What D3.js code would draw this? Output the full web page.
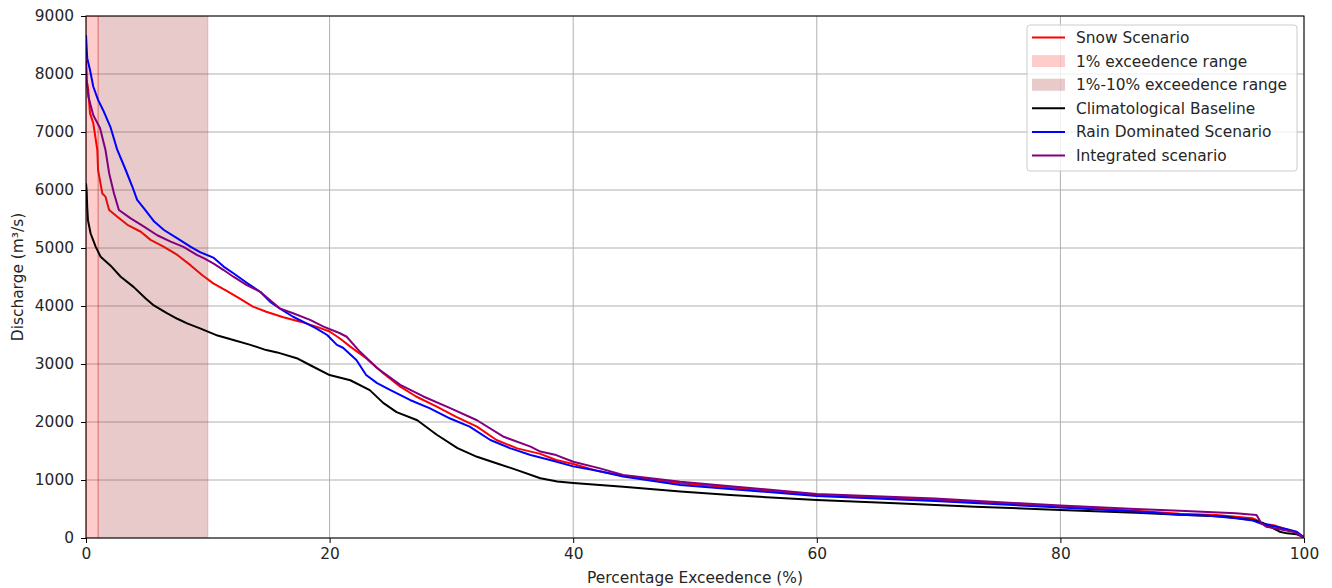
<!DOCTYPE html>
<html>
<head>
<meta charset="utf-8">
<script src="https://cdn.jsdelivr.net/npm/d3@7"></script>
<style>
  html, body { margin: 0; padding: 0; background: #fff; }
  svg { display: block; font-family: "DejaVu Sans", sans-serif; }
</style>
</head>
<body>
<svg id="chart" width="1332" height="588"></svg>
<script>
// ---------- DATA (percentage exceedance %, discharge m³/s) ----------
const xTicks = [0, 20, 40, 60, 80, 100];
const yTicks = [0, 1000, 2000, 3000, 4000, 5000, 6000, 7000, 8000, 9000];

const snowScenario = [
  [0,8200],[0.05,7900],[0.19,7720],[0.33,7320],[0.6,7150],[0.93,6690],[0.99,6345],[1.34,5940],
  [1.6,5885],[1.9,5655],[2.57,5540],[3.4,5400],[4.5,5280],[5.3,5140],[6.4,5020],[7.5,4880],
  [8.6,4700],[9.55,4530],[10.45,4390],[11.55,4260],[12.6,4130],[13.7,3990],[14.8,3900],[16.2,3805],
  [17.6,3730],[18.9,3645],[20,3560],[20.85,3440],[21.7,3300],[23,3100],[24.4,2840],[25.8,2610],
  [27.1,2440],[28.8,2265],[30.4,2090],[32.1,1920],[33.7,1690],[35.4,1545],[37.3,1450],[38.6,1345],
  [40,1275],[42.2,1145],[44.1,1075],[48.8,945],[60,745],[69.7,660],[80,545],[86.2,470],[89.8,420],
  [92.8,397],[95.8,340],[96.2,300],[96.5,250],[97.5,220],[98.4,160],[99.5,90],[100,15]
];

const baseline = [
  [0,6115],[0.05,6000],[0.1,5700],[0.16,5480],[0.38,5250],[0.8,5020],[1.2,4850],[2.0,4700],
  [2.85,4505],[3.9,4330],[4.9,4130],[5.5,4020],[6.6,3880],[7.5,3780],[8.3,3700],[9.36,3615],
  [10.8,3490],[12.1,3415],[13.5,3330],[14.8,3240],[15.7,3200],[17.3,3100],[18.5,2970],[20,2810],
  [21.7,2720],[23.3,2550],[24.4,2330],[25.5,2170],[27.2,2030],[28.8,1780],[30.5,1550],[32.1,1400],
  [33.7,1290],[35.4,1170],[37.3,1030],[38.7,975],[40,950],[44.1,885],[48.8,800],[52.9,740],
  [60,655],[66.5,598],[73,540],[80,483],[86.2,437],[89.8,400],[93.4,370],[95.8,310],[96.7,253],
  [98,109],[98.6,80],[99.4,64],[100,12]
];

const rainScenario = [
  [0,8670],[0.1,8270],[0.33,8070],[0.6,7780],[1.0,7550],[1.4,7380],[2.0,7090],[2.57,6690],
  [3.26,6345],[3.8,6060],[4.2,5830],[4.76,5685],[5.6,5455],[6.4,5310],[7.5,5165],[8.6,5020],
  [9.36,4930],[10.45,4835],[11.3,4680],[12.1,4565],[13.2,4400],[14.3,4245],[15.1,4075],[15.9,3960],
  [17,3815],[18.1,3700],[18.9,3615],[19.8,3500],[20.6,3330],[21.1,3280],[22.2,3070],[23,2810],
  [23.9,2670],[25,2550],[26.6,2380],[28.2,2240],[29.9,2060],[31.5,1920],[33.2,1690],[34.8,1550],
  [36.5,1430],[38.1,1345],[40,1235],[42.2,1150],[44.1,1060],[48.8,915],[60,725],[69.7,640],
  [80,525],[86.2,455],[89.8,400],[92,390],[94.4,340],[95.8,300],[96.4,255],[97.7,195],[98.6,150],
  [99.4,109],[99.8,40],[100,22]
];

const integratedScenario = [
  [0,8240],[0.05,7900],[0.19,7610],[0.6,7290],[1.15,7070],[1.6,6690],[1.9,6290],[2.3,5940],
  [2.7,5655],[3.67,5510],[4.76,5370],[5.85,5220],[6.95,5110],[8.0,5020],[9.1,4880],[9.7,4820],
  [10.45,4735],[11.3,4620],[12.1,4505],[13.2,4360],[14.3,4245],[15.9,3960],[17,3875],[18.4,3760],
  [19.5,3645],[20.85,3530],[21.4,3470],[22.5,3210],[23.9,2930],[25.8,2640],[27.7,2440],[29.9,2240],
  [32.1,2030],[34.3,1745],[36.5,1575],[37.3,1490],[38.6,1430],[40,1315],[42.2,1200],[44.1,1085],
  [48.8,970],[60,760],[69.7,680],[80,560],[86.2,500],[89.8,470],[94.4,425],[96.1,397],[96.5,253],
  [96.9,195],[98,150],[99.1,109],[99.6,52],[100,5]
];

const ranges = [
  { from: 0, to: 1, label: "1% exceedence range", fill: "#ff0000", fillOpacity: 0.2, stroke: "#ff0000", strokeOpacity: 0.25 },
  { from: 1, to: 10, label: "1%-10% exceedence range", fill: "#a52a2a", fillOpacity: 0.25, stroke: "#a52a2a", strokeOpacity: 0.15 }
];

// ---------- LAYOUT ----------
const FS = 15.4;
const svg = d3.select("#chart");
const margin = { left: 86, right: 28, top: 16, bottom: 50 };
const W = 1332, H = 588;
const x = d3.scaleLinear().domain([0, 100]).range([margin.left, W - margin.right]);
const y = d3.scaleLinear().domain([0, 9000]).range([H - margin.bottom, margin.top]);

// grid
const grid = svg.append("g");
grid.selectAll("line.vx").data(xTicks).enter().append("line")
  .attr("x1", d => x(d)).attr("x2", d => x(d))
  .attr("y1", y(0)).attr("y2", y(9000))
  .attr("stroke", "#b0b0b0").attr("stroke-width", 1);
grid.selectAll("line.hy").data(yTicks).enter().append("line")
  .attr("x1", x(0)).attr("x2", x(100))
  .attr("y1", d => y(d)).attr("y2", d => y(d))
  .attr("stroke", "#b0b0b0").attr("stroke-width", 1);

const line = d3.line().x(d => x(d[0])).y(d => y(d[1]));
svg.append("clipPath").attr("id", "plotclip").append("rect")
  .attr("x", x(0)).attr("y", y(9000)).attr("width", x(100) - x(0)).attr("height", y(0) - y(9000));

const plot = svg.append("g").attr("clip-path", "url(#plotclip)");

function drawLine(data, color) {
  plot.append("path").datum(data)
    .attr("d", line)
    .attr("fill", "none")
    .attr("stroke", color)
    .attr("stroke-width", 2)
    .attr("stroke-linejoin", "round")
    .attr("stroke-linecap", "butt");
}

// draw order as in source: snow, spans, baseline, rain, integrated
drawLine(snowScenario, "#ff0000");

plot.selectAll("rect.span").data(ranges).enter().append("rect")
  .attr("x", d => x(d.from)).attr("width", d => x(d.to) - x(d.from))
  .attr("y", y(9000)).attr("height", y(0) - y(9000))
  .attr("fill", d => d.fill).attr("fill-opacity", d => d.fillOpacity)
  .attr("stroke", d => d.stroke).attr("stroke-opacity", d => d.strokeOpacity)
  .attr("stroke-width", 1.5);

drawLine(baseline, "#000000");
drawLine(rainScenario, "#0000ff");
drawLine(integratedScenario, "#800080");

// axes
const xAxis = d3.axisBottom(x).tickValues(xTicks).tickSize(5).tickPadding(5).tickFormat(d3.format("d"));
const yAxis = d3.axisLeft(y).tickValues(yTicks).tickSize(5).tickPadding(7).tickFormat(d3.format("d"));

const gx = svg.append("g").attr("transform", `translate(0,${y(0)})`).call(xAxis);
const gy = svg.append("g").attr("transform", `translate(${x(0)},0)`).call(yAxis);
[gx, gy].forEach(g => {
  g.select(".domain").remove();
  g.selectAll("text").attr("font-size", FS).attr("font-family", "DejaVu Sans").attr("fill", "#262626");
  g.selectAll("line").attr("stroke", "#000");
});

// frame
svg.append("rect")
  .attr("x", x(0)).attr("y", y(9000))
  .attr("width", x(100) - x(0)).attr("height", y(0) - y(9000))
  .attr("fill", "none").attr("stroke", "#000").attr("stroke-width", 1);

// axis labels
svg.append("text")
  .attr("x", (x(0) + x(100)) / 2).attr("y", 583)
  .attr("text-anchor", "middle").attr("font-size", FS).attr("fill", "#262626")
  .text("Percentage Exceedence (%)");
svg.append("text")
  .attr("transform", `translate(23,${(y(0) + y(9000)) / 2}) rotate(-90)`)
  .attr("text-anchor", "middle").attr("font-size", FS).attr("fill", "#262626")
  .text("Discharge (m³/s)");

// legend
const legendItems = [
  { label: "Snow Scenario", type: "line", color: "#ff0000" },
  { label: ranges[0].label, type: "patch", fill: ranges[0].fill, op: ranges[0].fillOpacity },
  { label: ranges[1].label, type: "patch", fill: ranges[1].fill, op: ranges[1].fillOpacity },
  { label: "Climatological Baseline", type: "line", color: "#000000" },
  { label: "Rain Dominated Scenario", type: "line", color: "#0000ff" },
  { label: "Integrated scenario", type: "line", color: "#800080" }
];
const lg = svg.append("g").attr("transform", "translate(1027,25)");
lg.append("rect").attr("x", 0).attr("y", 0).attr("width", 270).attr("height", 146)
  .attr("rx", 3).attr("fill", "#fff").attr("fill-opacity", 0.8)
  .attr("stroke", "#cccccc").attr("stroke-width", 1);
const rows = lg.selectAll("g.row").data(legendItems).enter().append("g")
  .attr("transform", (d, i) => `translate(0,${12.5 + i * 23.6})`);
rows.filter(d => d.type === "line").append("line")
  .attr("x1", 5).attr("x2", 38).attr("y1", 0).attr("y2", 0)
  .attr("stroke", d => d.color).attr("stroke-width", 2);
rows.filter(d => d.type === "patch").append("rect")
  .attr("x", 5).attr("y", -6).attr("width", 33).attr("height", 12)
  .attr("fill", d => d.fill).attr("fill-opacity", d => d.op);
rows.append("text").attr("x", 49).attr("y", 0).attr("dy", "0.36em")
  .attr("font-size", FS).attr("fill", "#262626").text(d => d.label);
</script>
</body>
</html>
